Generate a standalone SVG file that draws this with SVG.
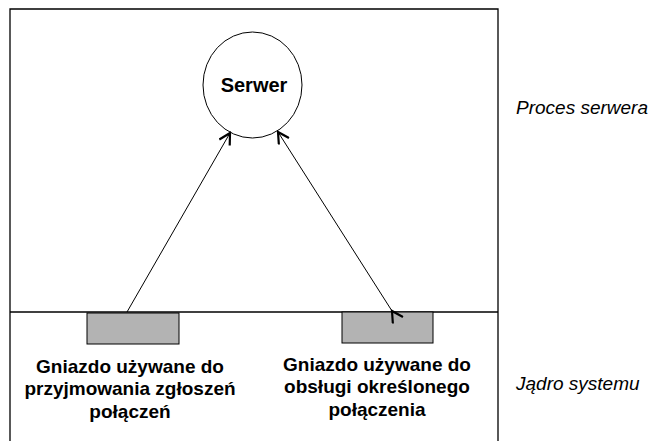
<svg xmlns="http://www.w3.org/2000/svg" width="648" height="441" viewBox="0 0 648 441">
<style>
.frame{fill:none;stroke:#000;stroke-width:1.3}
.sock{fill:#b3b3b3;stroke:#000;stroke-width:1}
.lbl{font-family:"Liberation Sans",Arial,sans-serif;font-weight:bold;font-size:19px;text-anchor:middle;fill:#000}
.side{font-family:"Liberation Sans",Arial,sans-serif;font-style:italic;font-size:19px;fill:#000}
.conn{stroke:#000;stroke-width:1;fill:none}
</style>
<defs>
<marker id="ah" markerWidth="14" markerHeight="14" refX="12" refY="7" orient="auto" markerUnits="userSpaceOnUse">
<path d="M1,1 L12,7 L1,13" fill="none" stroke="#000" stroke-width="2.2"/>
</marker>
</defs>
<rect width="648" height="441" fill="#fff"/>
<g id="frame">
<polyline class="frame" points="10,441 10,9 498,9 498,441"/>
<line class="frame" x1="10" y1="312" x2="498" y2="312"/>
</g>
<g id="server">
<ellipse cx="252.5" cy="85" rx="49.5" ry="53" fill="#fff" stroke="#000" stroke-width="1"/>
<text class="lbl" x="254" y="92" style="font-size:20px">Serwer</text>
</g>
<g id="socket-listen">
<rect class="sock" x="87" y="313" width="92" height="31"/>
<text class="lbl" x="130" y="373">Gniazdo używane do</text>
<text class="lbl" x="130" y="395">przyjmowania zgłoszeń</text>
<text class="lbl" x="130" y="418">połączeń</text>
</g>
<g id="socket-conn">
<rect class="sock" x="342" y="312" width="91" height="31"/>
<text class="lbl" x="377" y="371">Gniazdo używane do</text>
<text class="lbl" x="377" y="393">obsługi określonego</text>
<text class="lbl" x="377" y="416">połączenia</text>
</g>
<g id="side-labels">
<text class="side" x="516" y="114">Proces serwera</text>
<text class="side" x="516" y="390">Jądro systemu</text>
</g>
<g id="connectors">
<line class="conn" x1="127" y1="312" x2="230" y2="133" marker-end="url(#ah)"/>
<line class="conn" x1="392" y1="311" x2="278" y2="132" marker-start="url(#ah)" marker-end="url(#ah)"/>
</g>
</svg>
